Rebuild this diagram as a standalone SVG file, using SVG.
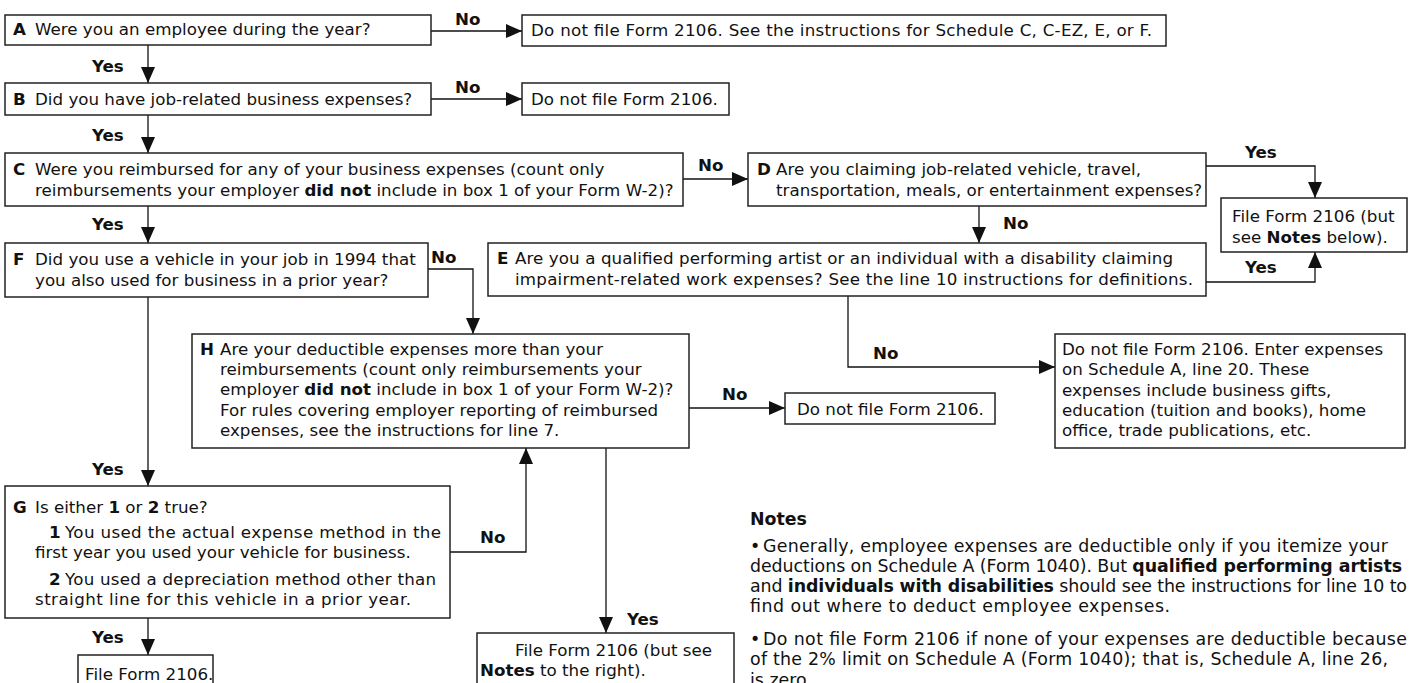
<svg xmlns="http://www.w3.org/2000/svg" width="1415" height="683" viewBox="0 0 1415 683">
<style>
.t{font-family:"DejaVu Sans",Verdana,sans-serif;font-size:16.7px;fill:#111}
.n{font-size:17.4px}
.b{font-weight:bold}
.box{fill:#fff;stroke:#222;stroke-width:1.5}
.c{fill:none;stroke:#111;stroke-width:1.3}
</style>
<defs>
<marker id="ah" markerUnits="userSpaceOnUse" markerWidth="16" markerHeight="14" refX="16" refY="7" orient="auto"><path d="M0,0 L16,7 L0,14 z" fill="#111"/></marker>
</defs>
<rect width="1415" height="683" fill="#fff"/>
<g id="connectors">
<path class="c" marker-end="url(#ah)" d="M431,31 H522"/>
<path class="c" marker-end="url(#ah)" d="M148,45 V83"/>
<path class="c" marker-end="url(#ah)" d="M431,99 H522"/>
<path class="c" marker-end="url(#ah)" d="M148,115 V153"/>
<path class="c" marker-end="url(#ah)" d="M683,179 H748"/>
<path class="c" marker-end="url(#ah)" d="M148,206 V243"/>
<path class="c" marker-end="url(#ah)" d="M1206,166 H1315 V198"/>
<path class="c" marker-end="url(#ah)" d="M979,206 V243"/>
<path class="c" marker-end="url(#ah)" d="M1206,282 H1315 V252"/>
<path class="c" marker-end="url(#ah)" d="M848,296 V367 H1055"/>
<path class="c" marker-end="url(#ah)" d="M428,269 H473 V334"/>
<path class="c" marker-end="url(#ah)" d="M148,297 V486"/>
<path class="c" marker-end="url(#ah)" d="M689,408 H785"/>
<path class="c" marker-end="url(#ah)" d="M450,552 H526 V448"/>
<path class="c" marker-end="url(#ah)" d="M148,618 V655"/>
<path class="c" marker-end="url(#ah)" d="M606,448 V633"/>
<g class="t b">
<text x="455" y="25">No</text>
<text x="92" y="72">Yes</text>
<text x="455" y="93">No</text>
<text x="92" y="141">Yes</text>
<text x="698" y="171">No</text>
<text x="92" y="230">Yes</text>
<text x="1245" y="158">Yes</text>
<text x="1003" y="229">No</text>
<text x="1245" y="273">Yes</text>
<text x="873" y="359">No</text>
<text x="431" y="263">No</text>
<text x="722" y="400">No</text>
<text x="92" y="475">Yes</text>
<text x="480" y="543">No</text>
<text x="92" y="643">Yes</text>
<text x="627" y="625">Yes</text>
</g>
</g>
<g id="nodeA">
<rect class="box" x="5" y="15" width="426" height="30"/>
<text class="t" y="35"><tspan class="b" x="13">A</tspan><tspan x="35">Were you an employee during the year?</tspan></text>
</g>
<g id="nodeA-no">
<rect class="box" x="522" y="15" width="644" height="31"/>
<text class="t" x="531" y="36" textLength="621" lengthAdjust="spacing">Do not file Form 2106. See the instructions for Schedule C, C-EZ, E, or F.</text>
</g>
<g id="nodeB">
<rect class="box" x="5" y="83" width="426" height="32"/>
<text class="t" y="105"><tspan class="b" x="13">B</tspan><tspan x="35">Did you have job-related business expenses?</tspan></text>
</g>
<g id="nodeB-no">
<rect class="box" x="522" y="83" width="207" height="32"/>
<text class="t" x="531" y="105">Do not file Form 2106.</text>
</g>
<g id="nodeC">
<rect class="box" x="5" y="153" width="678" height="53"/>
<text class="t" y="175"><tspan class="b" x="13">C</tspan><tspan x="35">Were you reimbursed for any of your business expenses (count only</tspan></text>
<text class="t" x="35" y="196">reimbursements your employer <tspan class="b">did not</tspan> include in box 1 of your Form W-2)?</text>
</g>
<g id="nodeD">
<rect class="box" x="748" y="153" width="458" height="53"/>
<text class="t" y="175"><tspan class="b" x="757">D</tspan><tspan x="776">Are you claiming job-related vehicle, travel,</tspan></text>
<text class="t" x="776" y="196">transportation, meals, or entertainment expenses?</text>
</g>
<g id="nodeFile1">
<rect class="box" x="1221" y="198" width="186" height="54"/>
<text class="t" x="1232" y="222">File Form 2106 (but</text>
<text class="t" x="1232" y="243">see <tspan class="b">Notes</tspan> below).</text>
</g>
<g id="nodeE">
<rect class="box" x="488" y="243" width="718" height="53"/>
<text class="t" y="264"><tspan class="b" x="497">E</tspan><tspan x="515" textLength="658" lengthAdjust="spacing">Are you a qualified performing artist or an individual with a disability claiming</tspan></text>
<text class="t" x="515" y="285" textLength="678" lengthAdjust="spacing">impairment-related work expenses? See the line 10 instructions for definitions.</text>
</g>
<g id="nodeF">
<rect class="box" x="5" y="243" width="423" height="54"/>
<text class="t" y="265"><tspan class="b" x="13">F</tspan><tspan x="35">Did you use a vehicle in your job in 1994 that</tspan></text>
<text class="t" x="35" y="286">you also used for business in a prior year?</text>
</g>
<g id="nodeH">
<rect class="box" x="192" y="334" width="497" height="114"/>
<text class="t" y="355"><tspan class="b" x="200">H</tspan><tspan x="220">Are your deductible expenses more than your</tspan></text>
<text class="t" x="220" y="375">reimbursements (count only reimbursements your</text>
<text class="t" x="220" y="395">employer <tspan class="b">did not</tspan> include in box 1 of your Form W-2)?</text>
<text class="t" x="220" y="415.5">For rules covering employer reporting of reimbursed</text>
<text class="t" x="220" y="436">expenses, see the instructions for line 7.</text>
</g>
<g id="nodeH-no">
<rect class="box" x="785" y="393" width="210" height="31"/>
<text class="t" x="797" y="415">Do not file Form 2106.</text>
</g>
<g id="nodeE-no">
<rect class="box" x="1055" y="334" width="350" height="114"/>
<text class="t" x="1062" y="355">Do not file Form 2106. Enter expenses</text>
<text class="t" x="1062" y="375">on Schedule A, line 20. These</text>
<text class="t" x="1062" y="395.5">expenses include business gifts,</text>
<text class="t" x="1062" y="416">education (tuition and books), home</text>
<text class="t" x="1062" y="436">office, trade publications, etc.</text>
</g>
<g id="nodeG">
<rect class="box" x="5" y="486" width="445" height="132"/>
<text class="t" y="513"><tspan class="b" x="13">G</tspan><tspan x="35">Is either </tspan><tspan class="b">1</tspan> or <tspan class="b">2</tspan> true?</text>
<text class="t" y="538"><tspan class="b" x="49">1</tspan><tspan x="65" textLength="376" lengthAdjust="spacing">You used the actual expense method in the</tspan></text>
<text class="t" x="35" y="558">first year you used your vehicle for business.</text>
<text class="t" y="585"><tspan class="b" x="49">2</tspan><tspan x="65" textLength="371" lengthAdjust="spacing">You used a depreciation method other than</tspan></text>
<text class="t" x="35" y="605" textLength="376" lengthAdjust="spacing">straight line for this vehicle in a prior year.</text>
</g>
<g id="nodeG-yes">
<rect class="box" x="78" y="655" width="135" height="50"/>
<text class="t" x="85" y="680">File Form 2106.</text>
</g>
<g id="nodeH-yes">
<rect class="box" x="477" y="633" width="257" height="70"/>
<text class="t" x="515" y="656">File Form 2106 (but see</text>
<text class="t" x="480" y="676"><tspan class="b">Notes</tspan> to the right).</text>
</g>
<g id="notes">
<text class="t n b" x="750" y="525">Notes</text>
<text class="t n" y="552"><tspan x="750">•</tspan><tspan x="763" textLength="625" lengthAdjust="spacing">Generally, employee expenses are deductible only if you itemize your</tspan></text>
<text class="t n" x="750" y="572" textLength="652" lengthAdjust="spacing">deductions on Schedule A (Form 1040). But <tspan class="b">qualified performing artists</tspan></text>
<text class="t n" x="750" y="592" textLength="657" lengthAdjust="spacing">and <tspan class="b">individuals with disabilities</tspan> should see the instructions for line 10 to</text>
<text class="t n" x="750" y="612" textLength="420" lengthAdjust="spacing">find out where to deduct employee expenses.</text>
<text class="t n" y="645"><tspan x="750">•</tspan><tspan x="763" textLength="644" lengthAdjust="spacing">Do not file Form 2106 if none of your expenses are deductible because</tspan></text>
<text class="t n" x="750" y="665" textLength="638" lengthAdjust="spacing">of the 2% limit on Schedule A (Form 1040); that is, Schedule A, line 26,</text>
<text class="t n" x="750" y="686">is zero.</text>
</g>
</svg>
